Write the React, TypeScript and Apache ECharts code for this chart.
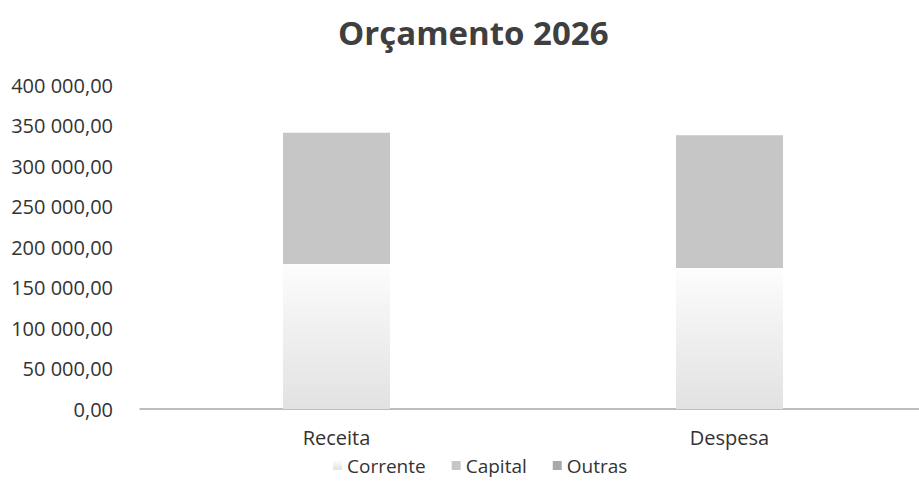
import React, { useEffect, useRef } from "react";
import * as echarts from "echarts";

const categories = ["Receita", "Despesa"];
const seriesNames = ["Corrente", "Capital", "Outras"];
const corrente = [179000, 174000];
const capital = [162000, 164000];
const outras = [0, 0];

const fmt = (v: number) => {
  const s = Math.round(v).toString().replace(/\B(?=(\d{3})+(?!\d))/g, " ");
  return s + ",00";
};

export default function App() {
  const ref = useRef<HTMLDivElement>(null);
  useEffect(() => {
    document.body.style.margin = "0";
    document.body.style.overflow = "hidden";
    const chart = echarts.init(ref.current!, null, { renderer: "svg" });
    const font = "'Open Sans', 'Noto Sans', sans-serif";
    chart.setOption({
      animation: false,
      backgroundColor: "#ffffff",
      textStyle: { fontFamily: font },
      title: {
        text: "Orçamento 2026",
        left: 333,
        top: 11,
        textStyle: { fontFamily: font, fontSize: 33, fontWeight: "bold", color: "#3f3f3f" },
      },
      legend: {
        data: seriesNames,
        left: 328,
        top: 451,
        itemWidth: 9,
        itemHeight: 9,
        itemGap: 26,
        icon: "rect",
        textStyle: { fontFamily: font, fontSize: 19, color: "#333333" },
      },
      grid: { left: 140, width: 786, top: 85, height: 324, containLabel: false },
      xAxis: {
        type: "category",
        data: categories,
        axisLine: { lineStyle: { color: "#a8a8a8", width: 1.5 } },
        axisTick: { show: false },
        axisLabel: { fontFamily: font, fontSize: 20, color: "#333333", margin: 18 },
      },
      yAxis: {
        type: "value",
        min: 0,
        max: 400000,
        interval: 50000,
        axisLine: { show: false },
        axisTick: { show: false },
        splitLine: { show: false },
        axisLabel: {
          fontFamily: font,
          fontSize: 20,
          color: "#333333",
          margin: 27,
          formatter: (v: number) => fmt(v),
        },
      },
      series: [
        {
          name: seriesNames[0],
          type: "bar",
          stack: "total",
          barWidth: 107,
          data: corrente,
          itemStyle: {
            color: new echarts.graphic.LinearGradient(0, 0, 0, 1, [
              { offset: 0, color: "#fdfdfd" },
              { offset: 0.3, color: "#f4f4f4" },
              { offset: 1, color: "#e2e2e2" },
            ]),
          },
        },
        {
          name: seriesNames[1],
          type: "bar",
          stack: "total",
          barWidth: 107,
          data: capital,
          itemStyle: { color: "#c6c6c6" },
        },
        {
          name: seriesNames[2],
          type: "bar",
          stack: "total",
          barWidth: 107,
          data: outras,
          itemStyle: { color: "#a9a9a9" },
        },
      ],
    });
    return () => chart.dispose();
  }, []);
  return <div ref={ref} style={{ width: 930, height: 497 }} />;
}
